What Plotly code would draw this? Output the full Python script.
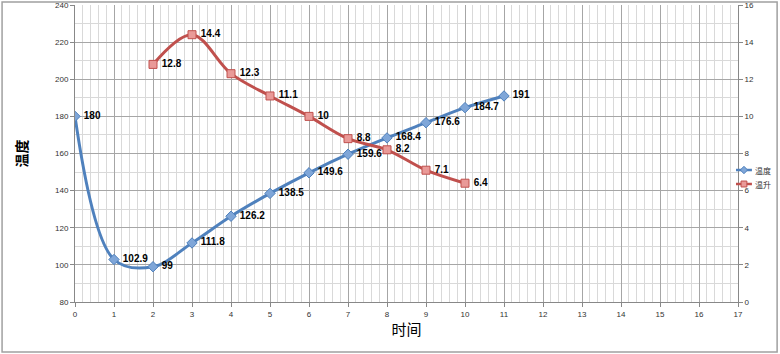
import plotly.graph_objects as go

time_temp = [0, 1, 2, 3, 4, 5, 6, 7, 8, 9, 10, 11]
temp = [180, 102.9, 99, 111.8, 126.2, 138.5, 149.6, 159.6, 168.4, 176.6, 184.7, 191]
time_rise = [2, 3, 4, 5, 6, 7, 8, 9, 10]
rise = [12.8, 14.4, 12.3, 11.1, 10, 8.8, 8.2, 7.1, 6.4]
x_ticks = list(range(0, 18))
series_names = ["温度", "温升"]

blue = "#4F81BD"
red = "#C0504D"
blue_fill = "#7FA6D8"
red_fill = "#E99A98"
lab_font = dict(family="Liberation Sans, Arial", size=10, color="#000")

fig = go.Figure()
fig.add_trace(go.Scatter(
    x=time_temp, y=temp, name=series_names[0], mode="lines+markers+text",
    line=dict(color=blue, width=3, shape="spline", smoothing=1.0),
    marker=dict(symbol="diamond", size=8, color=blue_fill, line=dict(color=blue, width=1)),
    text=[f"{v:g}" for v in temp], textposition="middle right",
    texttemplate=" <b>%{text}</b>", textfont=lab_font,
))
fig.add_trace(go.Scatter(
    x=time_rise, y=rise, name=series_names[1], mode="lines+markers+text", yaxis="y2",
    line=dict(color=red, width=3, shape="spline", smoothing=1.0),
    marker=dict(symbol="square", size=8, color=red_fill, line=dict(color=red, width=1)),
    text=[f"{v:g}" for v in rise], textposition="middle right",
    texttemplate=" <b>%{text}</b>", textfont=lab_font,
))

tick_font = dict(family="Liberation Sans, Arial", size=8, color="#333333")
fig.update_layout(
    width=780, height=354,
    margin=dict(l=75, r=42, t=5, b=52, autoexpand=False),
    paper_bgcolor="white", plot_bgcolor="white",
    showlegend=False,
    xaxis=dict(range=[0, 17], tickmode="array", tickvals=x_ticks,
               ticktext=[str(t) for t in x_ticks],
               showgrid=True, gridcolor="#A6A6A6", gridwidth=1,
               minor=dict(dtick=0.2, showgrid=True, gridcolor="#D9D9D9", gridwidth=1),
               showline=True, linecolor="#888888", linewidth=1,
               ticks="outside", ticklen=4, tickcolor="#888888",
               tickfont=tick_font, zeroline=False,
               title=dict(text="时间", font=dict(family="Noto Sans CJK SC", size=15, color="#000"), standoff=6)),
    yaxis=dict(range=[80, 240], dtick=20, tick0=80,
               showgrid=True, gridcolor="#A6A6A6", gridwidth=1,
               minor=dict(dtick=10, showgrid=True, gridcolor="#D9D9D9", gridwidth=1),
               showline=True, linecolor="#888888", linewidth=1,
               ticks="outside", ticklen=4, tickcolor="#888888",
               tickfont=tick_font, zeroline=False,
               title=dict(text="<b>温度</b>", font=dict(family="Noto Sans CJK SC", size=14, color="#000"), standoff=24)),
    yaxis2=dict(range=[0, 16], dtick=2, overlaying="y", side="right",
                showgrid=False, showline=True, linecolor="#888888", linewidth=1,
                ticks="outside", ticklen=4, tickcolor="#888888",
                tickfont=tick_font, zeroline=False),
)
# outer chart frame
fig.add_shape(type="rect", xref="paper", yref="paper",
              x0=-0.110, x1=1.059, y0=-0.168, y1=1.010,
              line=dict(color="#A0A0A0", width=1.5), layer="below")

# custom compact legend (Excel style)
leg = [(series_names[0], blue, blue_fill, "diamond", 0.4444),
       (series_names[1], red, red_fill, "square", 0.3973)]
lx0, lx1, lxm = 0.997, 1.021, 1.009
dx, dy = 0.0055, 0.0125
for name, lc, fc, sym, py in leg:
    fig.add_shape(type="line", xref="paper", yref="paper",
                  x0=lx0, x1=lx1, y0=py, y1=py, line=dict(color=lc, width=2.5))
    if sym == "diamond":
        path = f"M {lxm-dx},{py} L {lxm},{py+dy} L {lxm+dx},{py} L {lxm},{py-dy} Z"
    else:
        path = (f"M {lxm-dx*0.8},{py-dy*0.8} L {lxm+dx*0.8},{py-dy*0.8} "
                f"L {lxm+dx*0.8},{py+dy*0.8} L {lxm-dx*0.8},{py+dy*0.8} Z")
    fig.add_shape(type="path", xref="paper", yref="paper", path=path,
                  fillcolor=fc, line=dict(color=lc, width=1))
    fig.add_annotation(xref="paper", yref="paper", x=1.0226, y=py, xanchor="left",
                       yanchor="middle", showarrow=False, text=name,
                       font=dict(family="Noto Sans CJK SC", size=8, color="#333"))

fig.write_html("out.html")
